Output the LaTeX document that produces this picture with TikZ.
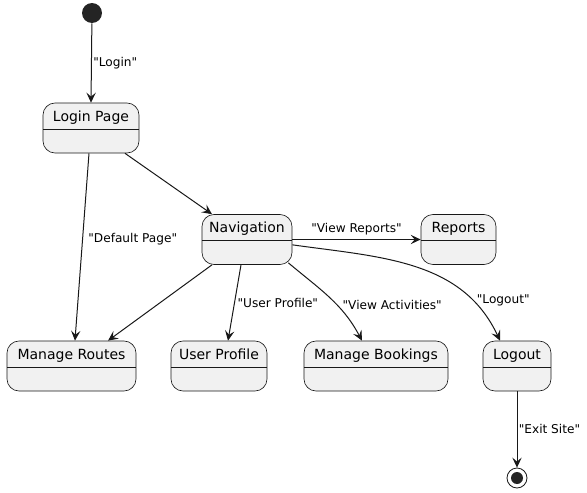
\documentclass[tikz,border=0pt]{standalone}
\usepackage{fontspec}
\setmainfont{DejaVu Sans}[Ligatures=TeXOff]
\usetikzlibrary{arrows.meta}
\definecolor{statefill}{HTML}{F1F1F1}
\definecolor{lineclr}{HTML}{181818}

\begin{document}
\begin{tikzpicture}[x=0.75pt,y=-0.75pt,
  state/.style={draw=lineclr, line width=0.5pt, fill=statefill, rounded corners=9pt,
    minimum height=37.5pt, inner ysep=0pt, text height=13.5pt, text depth=24pt,
    font=\fontsize{10.5}{12}\selectfont,
    path picture={\draw[lineclr, line width=0.5pt]
      ([yshift=-19.5pt]path picture bounding box.north west) --
      ([yshift=-19.5pt]path picture bounding box.north east);}},
  edge/.style={draw=lineclr, line width=0.75pt, -{Stealth[length=7.5pt, width=7pt, inset=3pt]}},
  lbl/.style={font=\fontsize{9.1}{11}\selectfont, inner sep=1pt}]
\useasboundingbox (0,0) rectangle (587,493);

\node[circle, fill=lineclr!95, minimum size=15pt, inner sep=0pt] (start) at (92,13) {};
\node[circle, draw=lineclr, line width=0.6pt, minimum size=15pt, inner sep=0pt] (end) at (517,478) {};
\node[circle, fill=lineclr!95, minimum size=9pt, inner sep=0pt] (endin) at (end) {};

\node[state, minimum width=72pt] (login) at (91,128) {Login Page};
\node[state, minimum width=67.5pt] (nav) at (247,239.5) {Navigation};
\node[state, minimum width=56.25pt] (reports) at (458.5,239.5) {Reports};
\node[state, minimum width=96.75pt] (routes) at (71.5,366) {Manage Routes};
\node[state, minimum width=72pt] (profile) at (219,366) {User Profile};
\node[state, minimum width=108pt] (bookings) at (376,366) {Manage Bookings};
\node[state, minimum width=51pt] (logout) at (517,366) {Logout};

\draw[edge] (start) -- (login.north) node[lbl, midway, anchor=west]{"Login"};
\draw[edge] ([xshift=-1.5pt]login.south) -- ([xshift=2.6pt]routes.north) node[lbl, pos=.46, anchor=west, xshift=3pt]{"Default Page"};
\draw[edge] ([xshift=25.5pt]login.south) -- ([xshift=-26.25pt]nav.north);
\draw[edge] ([xshift=-26.25pt]nav.south) -- ([xshift=27.4pt]routes.north);
\draw[edge] ([xshift=-4.5pt]nav.south) -- ([xshift=6.75pt]profile.north) node[lbl, pos=.5, anchor=west, xshift=1pt]{"User Profile"};
\draw[edge] ([xshift=-3pt,yshift=1.5pt]nav.south east) to[out=-40, in=118] node[lbl, pos=.6, anchor=west, xshift=3pt]{"View Activities"} ([xshift=-10.5pt]bookings.north);
\draw[edge] (nav.east) -- (reports.west) node[lbl, midway, above=2pt]{"View Reports"};
\draw[edge] ([yshift=-4pt]nav.east) to[out=-8, in=115] node[lbl, pos=.8, anchor=west, xshift=2pt]{"Logout"} ([xshift=-12.75pt]logout.north);
\draw[edge] (logout.south) -- (end.north) node[lbl, midway, anchor=west]{"Exit Site"};

\end{tikzpicture}
\end{document}
